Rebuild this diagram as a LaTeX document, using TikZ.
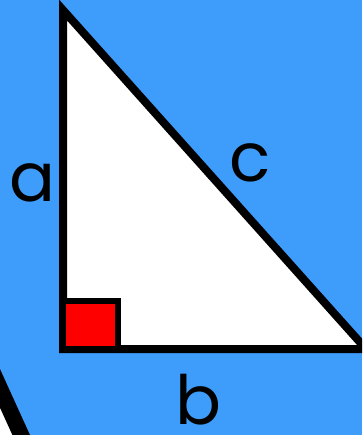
\documentclass[tikz,border=0pt]{standalone}
\usepackage{fontspec}
\setmainfont{Poppins}
\usepackage{tikz}
\usetikzlibrary{positioning, calc}
\definecolor{skyblue}{RGB}{62,156,250}
\definecolor{anglered}{RGB}{255,0,0}

\begin{document}
\begin{tikzpicture}[x=1pt, y=-1pt,
                side/.style={draw=black, line width=8pt, fill=white, line join=miter},
                corner/.style={draw=black, line width=6pt, fill=anglered},
                lbl/.style={font=\fontsize{68}{68}\selectfont, anchor=base, inner sep=0pt, text depth=0pt}]
                
                \clip (0,0) rectangle (362,435);
                \fill[skyblue] (0,0) rectangle (362,435);
                
                % corner of a second triangle, bottom left
                \fill[white] (-22,340) -- (28,450) -- (-30,450) -- cycle;
                \draw[line width=16pt] (-22,340) -- (28,450);
                
                \coordinate (top) at (63,10);
                \coordinate (rgt) at (63,349);
                \coordinate (end) at (366,349);
                
                \draw[side] (top) -- (rgt) -- (end) -- cycle;
                \draw[corner] (rgt) rectangle (118,301);
                
                \node[lbl] (la) at (32,202) {a};
                \node[lbl] (lc) at (250,182) {c};
                \node[lbl] (lb) at (198,424) {b};
            \end{tikzpicture}
\end{document}
